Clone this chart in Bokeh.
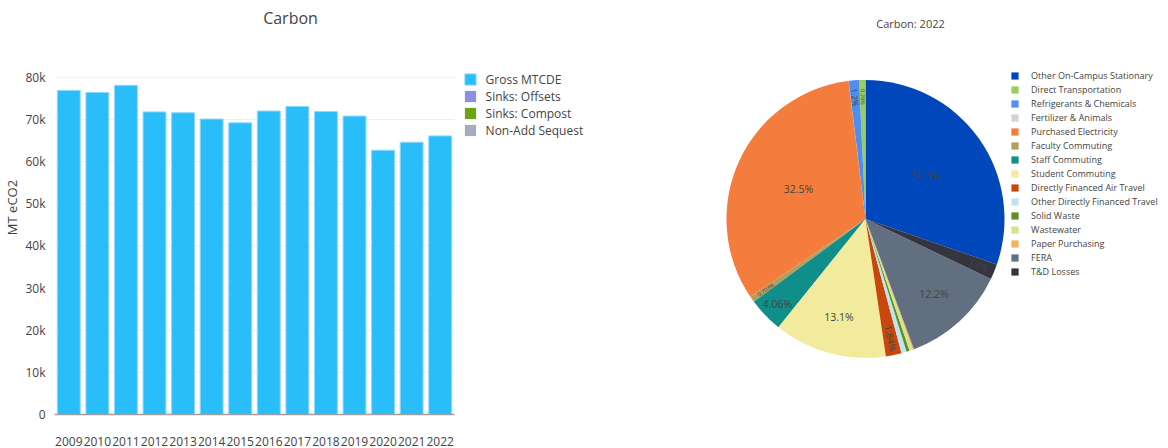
import math
from bokeh.plotting import figure
from bokeh.models import (ColumnDataSource, Legend, LegendItem, Range1d, LinearAxis,
                          FixedTicker, NumeralTickFormatter)
from bokeh.embed import file_html
from bokeh.resources import INLINE
from bokeh.core.properties import value

# ---------------- data ----------------
years = ["2009", "2010", "2011", "2012", "2013", "2014", "2015",
         "2016", "2017", "2018", "2019", "2020", "2021", "2022"]
gross_mtcde = [76900, 76400, 78100, 71800, 71600, 70100, 69200,
               72000, 73100, 71900, 70800, 62700, 64600, 66100]
sinks_offsets = [0, 0, 0, 0, 0, 0, 0, 0, 0, 0, 0, 0, 0, 0]
sinks_compost = [0, 0, 0, 0, 0, 0, 0, 0, 0, 0, 0, 0, 0, 0]
non_add_sequest = [0, 0, 0, 0, 0, 0, 0, 0, 0, 0, 0, 0, 0, 0]
bar_series = ["Gross MTCDE", "Sinks: Offsets", "Sinks: Compost", "Non-Add Sequest"]
bar_colors = ["#29BDFA", "#8B8FE6", "#6BA516", "#A4AEBD"]
y_ticks = [0, 10000, 20000, 30000, 40000, 50000, 60000, 70000, 80000]
y_max = 80000

pie_title = "Carbon: 2022"
pie_categories = ["Other On-Campus Stationary", "Direct Transportation", "Refrigerants & Chemicals",
                  "Fertilizer & Animals", "Purchased Electricity", "Faculty Commuting",
                  "Staff Commuting", "Student Commuting", "Directly Financed Air Travel",
                  "Other Directly Financed Travel", "Solid Waste", "Wastewater",
                  "Paper Purchasing", "FERA", "T&D Losses"]
pie_values = [30.32, 0.74, 1.2, 0.02, 32.52, 0.703, 4.06, 13.12, 1.84,
              0.6, 0.35, 0.4, 0.15, 12.22, 1.8]
pie_colors = ["#0047BB", "#9CCC5B", "#4C8FF0", "#D4D4D4", "#F47C3C", "#B49E5C",
              "#108F8A", "#F2EB9E", "#C9470A", "#BDE6F1", "#5E8E24", "#D2E58C",
              "#F5B35D", "#626F80", "#35353F"]

FONT = "Open Sans"
TXT = "#444444"

# ---------------- layout (pixels) ----------------
WIDTH, HEIGHT = 1168, 448
L, B = 54, 415            # frame left / bottom (value 0 line)
T, R = 0, WIDTH
FW, FH = R - L, B - T
BAR_AREA_W = 400          # px occupied by the categories
Y_TOP_PX = 77             # pixel row of y_max
PIE_CX, PIE_CY, PIE_R = 865, 219, 139

n = len(years)
unit = BAR_AREA_W / n
x_lo = -0.5
x_hi = x_lo + FW / unit
y_hi = y_max * FH / (B - Y_TOP_PX)

p = figure(width=WIDTH, height=HEIGHT, output_backend="svg", toolbar_location=None,
           x_range=Range1d(x_lo, x_hi), y_range=Range1d(0, y_hi),
           x_axis_type=None, y_axis_type=None,
           min_border_left=L, min_border_right=0, min_border_top=0, min_border_bottom=HEIGHT - B,
           outline_line_color=None, background_fill_color="white", border_fill_color="white")
p.grid.visible = False
p.extra_x_ranges = {"pie_x": Range1d((L - PIE_CX) / PIE_R, (R - PIE_CX) / PIE_R),
                    "scr_x": Range1d(L, R)}
p.extra_y_ranges = {"pie_y": Range1d((PIE_CY - B) / PIE_R, (PIE_CY - T) / PIE_R),
                    "scr_y": Range1d(B, T)}

# ---------------- bar chart ----------------
xs = list(range(n))
src = ColumnDataSource(dict(x=xs, year=years, gross=gross_mtcde, offsets=sinks_offsets,
                            compost=sinks_compost, nonadd=non_add_sequest))

grid_src = ColumnDataSource(dict(y=[t for t in y_ticks if t > 0]))
p.segment(x0=x_lo, x1=n - 0.5, y0="y", y1="y", source=grid_src,
          line_color="#EEEEEE", line_width=1)

r_gross = p.vbar(x="x", top="gross", width=0.8, source=src,
                 fill_color=bar_colors[0], line_color="#8FD8FB", line_width=1)
r_off = p.vbar(x="x", top="offsets", width=0.8, source=src,
               fill_color=bar_colors[1], line_color=None)
r_comp = p.vbar(x="x", top="compost", width=0.8, source=src,
                fill_color=bar_colors[2], line_color=None)
r_non = p.vbar(x="x", top="nonadd", width=0.8, source=src,
               fill_color=bar_colors[3], line_color=None)

yaxis = LinearAxis(ticker=FixedTicker(ticks=y_ticks), formatter=NumeralTickFormatter(format="0a"),
                   bounds=(0, y_max), axis_label="MT eCO2")
yaxis.axis_line_color = None
yaxis.major_tick_line_color = None
yaxis.minor_tick_line_color = None
yaxis.major_label_standoff = 3
yaxis.axis_label_standoff = 1
p.add_layout(yaxis, "left")

xaxis = LinearAxis(ticker=FixedTicker(ticks=xs), bounds=(x_lo, n - 0.5),
                   major_label_overrides={i: yr for i, yr in zip(xs, years)})
xaxis.axis_line_color = "#A0A0A0"
xaxis.axis_line_width = 1.5
xaxis.major_tick_line_color = None
xaxis.minor_tick_line_color = None
xaxis.major_label_standoff = 16
p.add_layout(xaxis, "below")

for ax in (xaxis, yaxis):
    ax.major_label_text_font = FONT
    ax.major_label_text_font_size = "12px"
    ax.major_label_text_color = TXT
    ax.axis_label_text_font = FONT
    ax.axis_label_text_font_size = "13px"
    ax.axis_label_text_font_style = "normal"
    ax.axis_label_text_color = TXT

leg1 = Legend(items=[LegendItem(label=bar_series[0], renderers=[r_gross]),
                     LegendItem(label=bar_series[1], renderers=[r_off]),
                     LegendItem(label=bar_series[2], renderers=[r_comp]),
                     LegendItem(label=bar_series[3], renderers=[r_non])],
              location=(408.6, 275.5), border_line_color=None, background_fill_alpha=0,
              label_text_font=FONT, label_text_font_size="12px", label_text_color=TXT,
              glyph_height=14, glyph_width=14, label_height=14, spacing=0,
              padding=5, margin=0, label_standoff=9)
p.add_layout(leg1, "center")

# ---------------- pie chart ----------------
total = sum(pie_values)
shares = [v / total for v in pie_values]
starts, ends = [], []
cum = math.pi / 2 - 2 * math.pi * shares[0]
for f in shares:
    starts.append(cum)
    cum += 2 * math.pi * f
    ends.append(cum)

src2 = ColumnDataSource(dict(cat=pie_categories, start=starts, end=ends, color=pie_colors))
r_pie = p.wedge(x=0, y=0, radius=1, start_angle="start", end_angle="end",
                fill_color="color", line_color=None, source=src2,
                x_range_name="pie_x", y_range_name="pie_y")

lx, ly, lt, la, ls = [], [], [], [], []
for f, s, e in zip(shares, starts, ends):
    if f < 0.007:
        continue
    mid = (s + e) / 2
    if f > 0.25:
        rr = 0.53
    elif f > 0.1:
        rr = 0.73
    else:
        rr = 0.88
    lx.append(rr * math.cos(mid))
    ly.append(rr * math.sin(mid))
    lt.append(f"{f * 100:.3g}%")
    if f < 0.03:
        ang = math.atan2(math.sin(mid), math.cos(mid))
        if math.cos(ang) < 0:
            ang += math.pi
        la.append(ang)
    else:
        la.append(0.0)
    if f >= 0.03:
        ls.append("10.5px")
    elif f >= 0.015:
        ls.append("9.5px")
    elif f >= 0.01:
        ls.append("8px")
    else:
        ls.append("5.5px")

src3 = ColumnDataSource(dict(x=lx, y=ly, t=lt, a=la, s=ls))
p.text(x="x", y="y", text="t", angle="a", text_font_size="s", source=src3,
       text_align="center", text_baseline="middle", text_color=TXT,
       text_font=value(FONT), x_range_name="pie_x", y_range_name="pie_y")

leg2 = Legend(items=[LegendItem(label=c, renderers=[r_pie], index=i)
                     for i, c in enumerate(pie_categories)],
              location=(956.1, 136.2), border_line_color=None, background_fill_alpha=0,
              label_text_font=FONT, label_text_font_size="9px", label_text_color=TXT,
              glyph_height=9, glyph_width=9, label_height=9, spacing=1,
              padding=4, margin=0, label_standoff=12)
p.add_layout(leg2, "center")

# ---------------- titles ----------------
title_src = ColumnDataSource(dict(x=[290, 910], y=[18, 23], t=["Carbon", pie_title],
                                  s=["16px", "11px"]))
p.text(x="x", y="y", text="t", text_font_size="s", source=title_src,
       text_align="center", text_baseline="middle", text_color=TXT,
       text_font=value(FONT), x_range_name="scr_x", y_range_name="scr_y")

open("out.html", "w").write(file_html(p, INLINE))
